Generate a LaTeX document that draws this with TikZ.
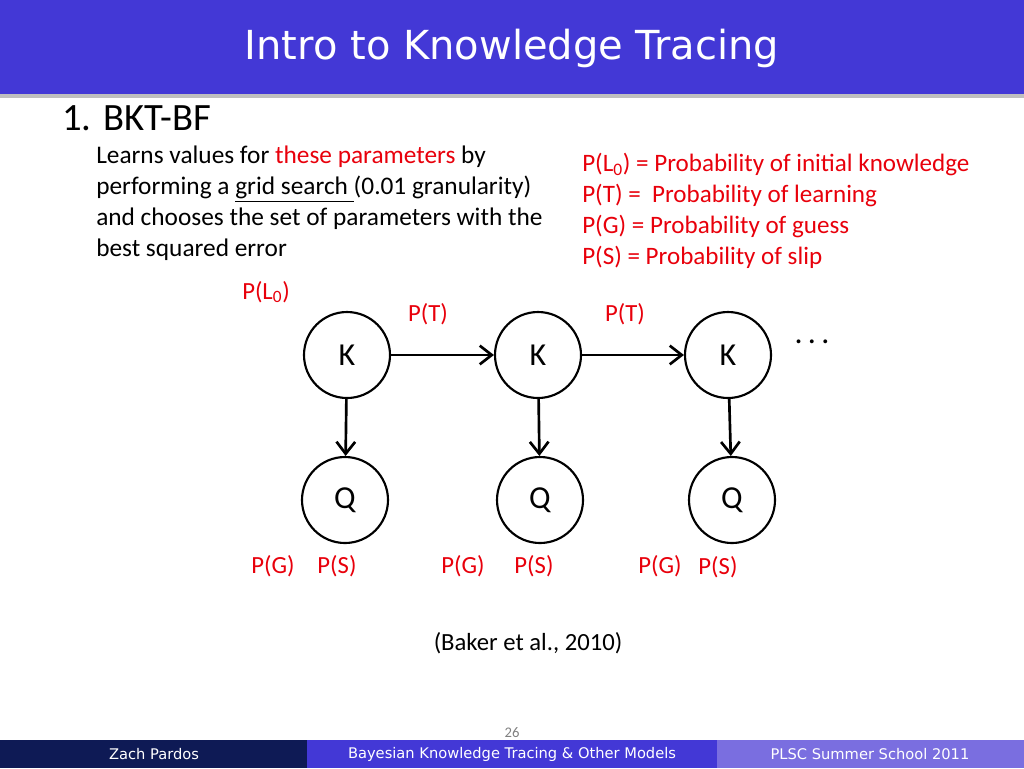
\documentclass[tikz,border=0pt]{standalone}
\usepackage{fontspec}
\setmainfont{Carlito}
\newfontfamily\vfont{DejaVu Sans}
\usetikzlibrary{arrows.meta}
\definecolor{bar}{HTML}{4338D6}
\definecolor{navy}{HTML}{0E1A55}
\definecolor{lav}{HTML}{7A6EE0}
\definecolor{rd}{HTML}{E8000B}
\begin{document}
\begin{tikzpicture}[x=0.75pt,y=-0.75pt,
  st/.style={circle,draw,line width=1.6pt,minimum size=86pt*0.75,font=\fontsize{24}{26}\selectfont},
  ar/.style={-{Straight Barb[length=9pt,width=14pt,line width=2pt]},line width=2pt},
  rl/.style={text=rd,font=\fontsize{18.5}{21}\selectfont},
  bt/.style={font=\fontsize{19}{23.2}\selectfont,align=left,anchor=north west,inner sep=0}]
\useasboundingbox (0,0) rectangle (1024,768);
\fill[gray!50] (0,3) rectangle (1024,98);
\fill[bar] (0,0) rectangle (1024,94);
\node[text=white,font=\vfont\fontsize{30}{32}\selectfont] (title) at (512,48) {Intro to Knowledge Tracing};
\node[anchor=west,inner sep=0,font=\fontsize{29}{32}\selectfont] (h) at (62,118) {1. BKT-BF};
\node[bt] (desc) at (96,146) {Learns values for \textcolor{rd}{these parameters} by\\
performing a \underline{grid search }(0.01 granularity)\\
and chooses the set of parameters with the\\
best squared error};
\node[bt,text=rd,font=\fontsize{18.8}{23.2}\selectfont] (defs) at (582,153) {P(L\textsubscript{0}) = Probability of initial knowledge\\
P(T) =\ \ Probability of learning\\
P(G) = Probability of guess\\
P(S) = Probability of slip};
\node[st] (k1) at (347,355) {K};
\node[st] (k2) at (538,355) {K};
\node[st] (k3) at (728,355) {K};
\node[st] (q1) at (345,500) {Q};
\node[st] (q2) at (540,500) {Q};
\node[st] (q3) at (732,500) {Q};
\draw[ar] (k1) -- (k2);
\draw[ar] (k2) -- (k3);
\draw[ar] (k1) -- (q1);
\draw[ar] (k2) -- (q2);
\draw[ar] (k3) -- (q3);
\node[rl] (pl0) at (266,292) {P(L\textsubscript{0})};
\node[rl] (pt1) at (428,314) {P(T)};
\node[rl] (pt2) at (625,314) {P(T)};
\node[font=\fontsize{24}{24}\selectfont] (dots) at (812,342) {.\,.\,.};
\node[rl] (g1) at (273,566) {P(G)};
\node[rl] (s1) at (337,566) {P(S)};
\node[rl] (g2) at (463,566) {P(G)};
\node[rl] (s2) at (534,566) {P(S)};
\node[rl] (g3) at (660,566) {P(G)};
\node[rl] (s3) at (718,567) {P(S)};
\node[font=\fontsize{18.5}{21}\selectfont] (cite) at (528,643) {(Baker et al., 2010)};
\node[text=gray,font=\fontsize{11}{12}\selectfont] (pg) at (512,733) {26};
\fill[navy] (0,740) rectangle (307,768);
\fill[bar] (307,740) rectangle (717,768);
\fill[lav] (717,740) rectangle (1024,768);
\node[text=white,font=\vfont\fontsize{11}{12}\selectfont] (f1) at (154,754) {Zach Pardos};
\node[text=white,font=\vfont\fontsize{11}{12}\selectfont] (f2) at (512,754) {Bayesian Knowledge Tracing \& Other Models};
\node[text=white,font=\vfont\fontsize{11}{12}\selectfont] (f3) at (870,754) {PLSC Summer School 2011};
\end{tikzpicture}
\end{document}
